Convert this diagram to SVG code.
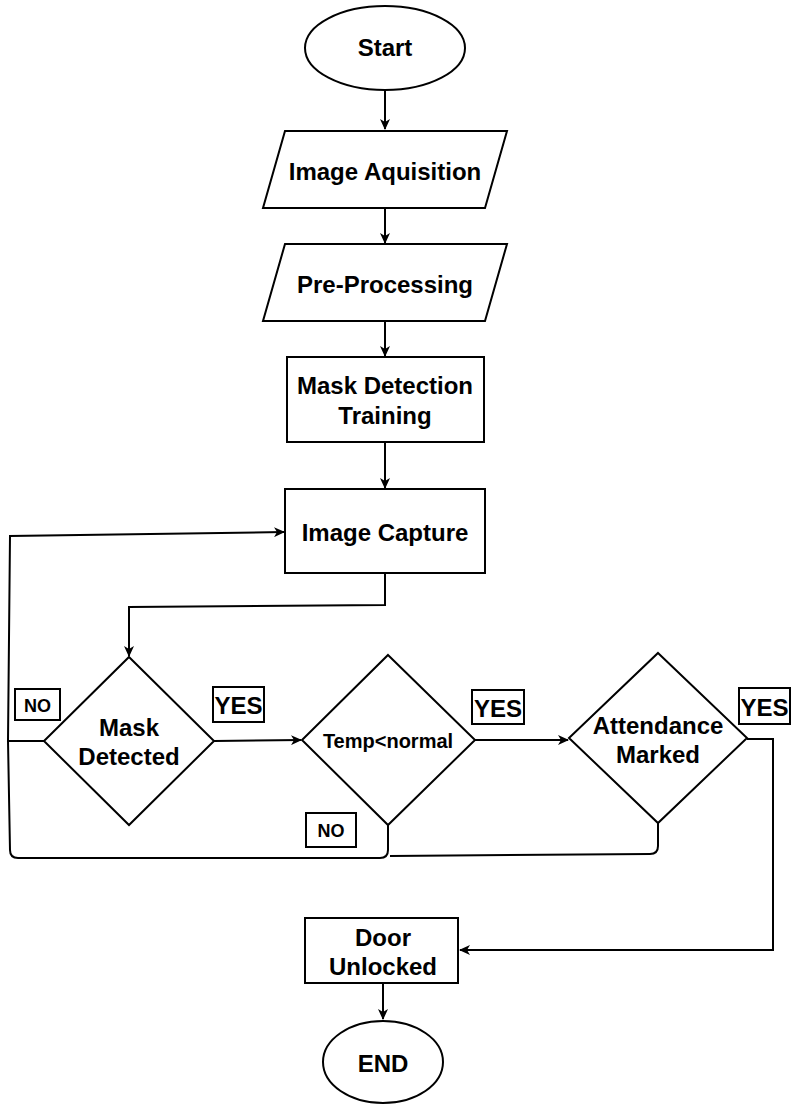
<svg xmlns="http://www.w3.org/2000/svg" width="796" height="1104" viewBox="0 0 796 1104">
<style>
.s{fill:#fff;stroke:#000;stroke-width:2}
.t{font-family:"Liberation Sans",Arial,sans-serif;font-weight:bold;font-size:24px;fill:#000;text-anchor:middle}
.e{fill:none;stroke:#000;stroke-width:2}
.lb{fill:#fff;stroke:#000;stroke-width:2}
</style>
<defs>
<marker id="a" markerUnits="userSpaceOnUse" markerWidth="12" markerHeight="10" refX="10" refY="5" orient="auto">
<path d="M0,0 L11,5 L0,10 L3,5 z" fill="#000"/>
</marker>
</defs>
<rect width="796" height="1104" fill="#fff"/>
<g id="edges">
<path class="e" d="M385,90 L385,129" marker-end="url(#a)"/>
<path class="e" d="M385,208 L385,243" marker-end="url(#a)"/>
<path class="e" d="M385,321 L385,356" marker-end="url(#a)"/>
<path class="e" d="M385,442 L385,488" marker-end="url(#a)"/>
<path class="e" d="M385,573 L385,605 L129,607 L129,656" marker-end="url(#a)"/>
<path class="e" d="M44,741 L8,741 L10,536 L284,532" marker-end="url(#a)"/>
<path class="e" d="M214,741 L301,740" marker-end="url(#a)"/>
<path class="e" d="M475,740 L568,740" marker-end="url(#a)"/>
<path class="e" d="M388,825 L388,850 Q388,858 380,858 L18,858 Q10,858 10,850 L8,741"/>
<path class="e" d="M658,823 L658,846 Q658,854 650,854 L390,856"/>
<path class="e" d="M747,739 L773,739 L773,950 L460,950" marker-end="url(#a)"/>
<path class="e" d="M383,983 L383,1019" marker-end="url(#a)"/>
</g>
<g id="start">
<ellipse class="s" cx="385" cy="48" rx="80" ry="42"/>
<text class="t" x="385" y="56">Start</text>
</g>
<g id="acq">
<polygon class="s" points="285,131 507,131 485,208 263,208"/>
<text class="t" x="385" y="180">Image Aquisition</text>
</g>
<g id="pre">
<polygon class="s" points="285,244 507,244 485,321 263,321"/>
<text class="t" x="385" y="293">Pre-Processing</text>
</g>
<g id="train">
<rect class="s" x="287" y="357" width="197" height="85"/>
<text class="t" x="385" y="394">Mask Detection</text>
<text class="t" x="385" y="424">Training</text>
</g>
<g id="capture">
<rect class="s" x="285" y="489" width="200" height="84"/>
<text class="t" x="385" y="541">Image Capture</text>
</g>
<g id="mask">
<polygon class="s" points="129,657 214,741 129,825 44,741"/>
<text class="t" x="129" y="736">Mask</text>
<text class="t" x="129" y="765">Detected</text>
</g>
<g id="temp">
<polygon class="s" points="388,655 475,740 388,825 302,740"/>
<text class="t" x="388" y="748" style="font-size:20px">Temp&lt;normal</text>
</g>
<g id="att">
<polygon class="s" points="658,653 747,738 658,823 569,738"/>
<text class="t" x="658" y="734">Attendance</text>
<text class="t" x="658" y="763">Marked</text>
</g>
<g id="door">
<rect class="s" x="305" y="918" width="153" height="65"/>
<text class="t" x="383" y="946">Door</text>
<text class="t" x="383" y="975">Unlocked</text>
</g>
<g id="end">
<ellipse class="s" cx="383" cy="1062" rx="60" ry="41"/>
<text class="t" x="383" y="1072">END</text>
</g>
<g id="no1">
<rect class="lb" x="15" y="689" width="45" height="31"/>
<text class="t" x="37.5" y="712" style="font-size:18px">NO</text>
</g>
<g id="yes1">
<rect class="lb" x="213" y="687" width="51" height="35"/>
<text class="t" x="238.5" y="714">YES</text>
</g>
<g id="yes2">
<rect class="lb" x="472" y="690" width="52" height="34"/>
<text class="t" x="498" y="717">YES</text>
</g>
<g id="yes3">
<rect class="lb" x="739" y="688" width="51" height="36"/>
<text class="t" x="764.5" y="716">YES</text>
</g>
<g id="no2">
<rect class="lb" x="306" y="813" width="50" height="34"/>
<text class="t" x="331" y="837" style="font-size:18px">NO</text>
</g>
</svg>
